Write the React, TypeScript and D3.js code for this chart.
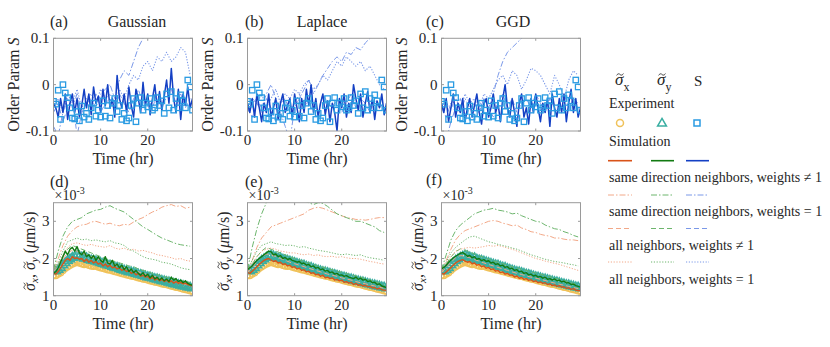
import * as d3 from "d3";
import { useEffect, useRef } from "react";

const W = 830;
const H = 347;
const FONT = "Liberation Serif, Times New Roman, DejaVu Serif, serif";

// time grids (hr)
const tFine = d3.range(0, 30, 0.5);
const tCoarse = d3.range(0, 30, 1);

const xTicks = [0, 10, 20];
const sTicks = [-0.1, 0, 0.1];
const sTickLabels = ["-0.1", "0", "0.1"];
const sigTicks = [1, 2, 3];
const sigTickLabels = ["1", "2", "3"];

const panelTags = ["(a)", "(b)", "(c)", "(d)", "(e)", "(f)"];
const panelTitles = ["Gaussian", "Laplace", "GGD"];

// ---------- experiment ----------
const expS = [
  -0.036, -0.042, -0.012, -0.075, 0.0, -0.018, -0.028, -0.05, -0.072, -0.074,
  -0.058, -0.078, -0.046, -0.07, -0.062, -0.075, -0.05, -0.04, -0.068, -0.055,
  -0.07, -0.035, -0.068, -0.045, -0.072, -0.04, -0.03, -0.058, -0.045, -0.075,
  -0.062, -0.078, -0.072, -0.045, -0.03, -0.08, -0.04, -0.028, -0.055, -0.04,
  -0.048, -0.03, -0.055, -0.05, -0.028, -0.045, -0.035, -0.062, -0.02, -0.05,
  -0.015, -0.055, -0.03, -0.05, -0.022, -0.035, -0.05, 0.01, -0.005, -0.055,
];
const expSigX = [
  1.55, 1.54, 1.58, 1.62, 1.68, 1.74, 1.78, 1.82, 1.85, 1.88,
  1.9, 1.88, 1.86, 1.84, 1.85, 1.82, 1.8, 1.79, 1.8, 1.77,
  1.75, 1.74, 1.72, 1.7, 1.69, 1.67, 1.65, 1.64, 1.62, 1.6,
  1.58, 1.56, 1.55, 1.53, 1.52, 1.5, 1.48, 1.47, 1.45, 1.44,
  1.42, 1.4, 1.39, 1.37, 1.36, 1.34, 1.32, 1.31, 1.3, 1.28,
  1.26, 1.25, 1.23, 1.22, 1.2, 1.18, 1.17, 1.15, 1.13, 1.12,
];
const expSigY = [
  1.68, 1.66, 1.7, 1.75, 1.82, 1.88, 1.94, 1.98, 2.02, 2.05,
  2.08, 2.06, 2.03, 2.0, 2.01, 1.97, 1.95, 1.94, 1.92, 1.9,
  1.88, 1.86, 1.84, 1.82, 1.81, 1.78, 1.76, 1.75, 1.72, 1.7,
  1.68, 1.66, 1.64, 1.63, 1.61, 1.59, 1.57, 1.56, 1.54, 1.52,
  1.5, 1.49, 1.47, 1.45, 1.44, 1.42, 1.4, 1.39, 1.37, 1.36,
  1.34, 1.32, 1.31, 1.29, 1.28, 1.26, 1.25, 1.23, 1.22, 1.2,
];

// ---------- order parameter S, simulations ----------
const sSolidA = [
  -0.04, -0.05, -0.07, -0.03, -0.06, -0.02, -0.075, -0.04, -0.02, -0.06,
  -0.03, -0.07, -0.045, -0.01, -0.05, -0.02, -0.065, -0.005, -0.04, -0.025,
  -0.06, -0.01, -0.045, 0.0, -0.05, -0.03, -0.07, 0.02, -0.03, -0.05,
  -0.02, -0.06, -0.005, -0.045, -0.07, -0.01, -0.03, -0.06, 0.005, -0.045,
  -0.02, -0.065, -0.03, 0.0, -0.05, -0.015, -0.055, -0.025, 0.01, -0.04,
  0.035, -0.03, -0.06, -0.01, -0.075, -0.02, -0.045, -0.005, -0.05, -0.03,
];
const sDashDotA = [
  -0.09, -0.11, -0.06, -0.03, -0.05, -0.02, -0.06, -0.04, -0.03, -0.05,
  -0.02, -0.01, 0.0, -0.03, 0.01, 0.03, 0.02, 0.05, 0.08, 0.1,
  0.12, 0.13, 0.14, 0.16, 0.15, 0.17, 0.18, 0.2, 0.19, 0.21,
];
const sDashedA = [
  -0.06, -0.04, -0.08, -0.05, -0.03, -0.11, -0.06, -0.04, -0.05, -0.02,
  -0.06, -0.04, -0.03, -0.05, -0.02, -0.04, -0.06, -0.03, -0.01, -0.04,
  -0.03, -0.05, -0.02, -0.04, -0.03, -0.01, -0.04, -0.02, -0.05, -0.03,
];
const sDottedA = [
  -0.05, -0.03, -0.06, -0.02, -0.04, -0.01, -0.05, -0.03, -0.02, -0.04,
  -0.01, -0.03, -0.02, -0.04, -0.01, -0.03, 0.0, 0.02, 0.01, 0.04,
  0.05, 0.03, 0.06, 0.05, 0.07, 0.05, 0.06, 0.08, 0.07, 0.02,
];
const sSolidB = [
  -0.04, -0.06, -0.03, -0.07, -0.02, -0.05, -0.08, -0.04, -0.06, -0.02,
  -0.07, -0.05, -0.03, -0.075, -0.04, -0.02, -0.06, -0.045, -0.03, -0.07,
  -0.02, -0.05, -0.08, -0.03, -0.06, -0.01, -0.045, 0.0, -0.06, -0.03,
  -0.07, -0.04, -0.02, -0.065, -0.035, -0.08, -0.04, -0.06, -0.1, -0.03,
  -0.05, -0.02, -0.07, -0.04, -0.06, 0.0, -0.03, -0.055, -0.02, -0.07,
  -0.04, -0.015, -0.06, -0.03, -0.075, -0.035, -0.05, -0.02, -0.065, -0.04,
];
const sDashDotB = [
  -0.06, -0.04, -0.03, -0.05, -0.02, 0.0, -0.03, -0.06, -0.09, -0.12,
  -0.05, -0.03, -0.01, 0.01, -0.02, 0.0, 0.02, 0.035, 0.05, 0.06,
  0.05, 0.07, 0.065, 0.08, 0.075, 0.09, 0.1, 0.12, 0.14, 0.15,
];
const sDashedB = [
  -0.05, -0.07, -0.04, -0.06, -0.03, -0.05, -0.08, -0.04, -0.03, -0.06,
  -0.04, -0.02, -0.05, -0.03, -0.04, -0.06, -0.02, -0.04, -0.05, -0.03,
  -0.06, -0.04, -0.02, -0.05, -0.03, -0.04, -0.06, -0.03, -0.05, -0.04,
];
const sDottedB = [
  -0.05, -0.03, -0.04, -0.02, -0.05, -0.03, -0.01, -0.04, -0.02, -0.03,
  -0.01, -0.02, 0.0, 0.01, -0.01, 0.0, 0.02, 0.01, 0.03, 0.05,
  0.04, 0.06, 0.05, 0.04, 0.05, 0.03, 0.04, 0.02, 0.0, -0.01,
];
const sSolidC = [
  -0.04, -0.06, -0.03, -0.08, -0.05, -0.02, -0.07, -0.04, -0.06, -0.03,
  -0.08, -0.05, -0.03, -0.07, -0.045, -0.02, -0.06, -0.085, -0.04, -0.03,
  -0.07, -0.05, -0.02, -0.06, -0.04, -0.08, -0.03, 0.0, -0.05, -0.07,
  -0.03, -0.06, -0.09, -0.04, -0.02, -0.07, -0.05, -0.085, -0.03, -0.06,
  -0.02, -0.05, -0.08, -0.04, -0.06, -0.03, -0.09, -0.02, -0.05, -0.07,
  -0.03, -0.06, -0.02, -0.08, -0.04, -0.01, -0.06, -0.03, -0.07, -0.05,
];
const sDashDotC = [
  -0.1, -0.12, -0.08, -0.05, -0.06, -0.03, -0.05, -0.04, -0.06, -0.03,
  -0.05, -0.02, 0.02, 0.05, 0.07, 0.08, 0.09, 0.1, 0.11, 0.12,
  0.13, 0.14, 0.15, 0.16, 0.17, 0.18, 0.19, 0.2, 0.21, 0.22,
];
const sDashedC = [
  -0.05, -0.07, -0.04, -0.06, -0.03, -0.07, -0.05, -0.04, -0.06, -0.03,
  -0.05, -0.07, -0.04, -0.02, -0.05, -0.03, -0.06, -0.04, -0.03, -0.05,
  -0.02, -0.04, -0.06, -0.03, -0.05, -0.04, -0.02, -0.05, -0.03, -0.04,
];
const sDottedC = [
  -0.06, -0.04, -0.05, -0.03, -0.05, -0.02, -0.04, -0.03, -0.05, -0.02,
  -0.03, -0.01, 0.01, 0.02, 0.0, 0.03, 0.02, -0.01, 0.01, 0.035,
  0.03, 0.02, 0.0, -0.02, 0.02, 0.0, -0.03, 0.01, 0.03, 0.02,
];

// ---------- sigma, simulations (x1e-3 um/s) ----------
const gSolidD = [
  1.6, 1.65, 1.75, 1.9, 2.05, 2.2, 2.1, 2.25, 2.3, 2.2,
  2.32, 2.15, 2.1, 2.2, 2.05, 2.1, 2.0, 2.08, 1.95, 2.05,
  1.95, 1.9, 2.05, 1.88, 1.85, 1.95, 1.8, 1.85, 1.75, 1.82,
  1.7, 1.78, 1.65, 1.72, 1.62, 1.68, 1.6, 1.55, 1.62, 1.52,
  1.58, 1.48, 1.55, 1.45, 1.5, 1.42, 1.48, 1.4, 1.45, 1.38,
  1.5, 1.42, 1.46, 1.38, 1.42, 1.35, 1.4, 1.33, 1.3, 1.28,
];
const oSolidD = [
  1.6, 1.58, 1.65, 1.75, 1.85, 1.95, 2.0, 1.95, 2.05, 2.0,
  2.02, 1.98, 2.0, 1.92, 1.98, 1.9, 1.95, 1.88, 1.92, 1.85,
  1.88, 1.8, 1.85, 1.78, 1.82, 1.75, 1.78, 1.72, 1.75, 1.68,
  1.72, 1.65, 1.68, 1.6, 1.64, 1.56, 1.6, 1.52, 1.55, 1.5,
  1.52, 1.45, 1.5, 1.42, 1.46, 1.4, 1.44, 1.38, 1.42, 1.36,
  1.4, 1.34, 1.38, 1.33, 1.36, 1.32, 1.34, 1.3, 1.28, 1.26,
];
const gDashDotD = [
  1.7, 2.2, 2.6, 2.85, 3.0, 3.05, 3.1, 3.2, 3.25, 3.3,
  3.32, 3.38, 3.42, 3.35, 3.3, 3.25, 3.15, 3.05, 2.95, 2.85,
  2.78, 2.7, 2.62, 2.55, 2.5, 2.45, 2.4, 2.37, 2.35, 2.33,
];
const oDashDotD = [
  1.7, 2.0, 2.35, 2.6, 2.75, 2.85, 2.9, 2.92, 2.98, 3.0,
  2.96, 2.92, 2.95, 2.9, 2.88, 2.92, 2.9, 2.98, 3.05, 3.1,
  3.18, 3.25, 3.3, 3.38, 3.42, 3.45, 3.4, 3.42, 3.35, 3.38,
];
const gDottedD = [
  1.7, 1.9, 2.2, 2.45, 2.5, 2.55, 2.5, 2.52, 2.48, 2.5,
  2.47, 2.45, 2.48, 2.42, 2.4, 2.35, 2.25, 2.2, 2.12, 2.05,
  2.0, 1.98, 1.95, 1.9, 1.88, 1.85, 1.8, 1.75, 1.72, 1.7,
];
const oDottedD = [
  1.7, 1.85, 2.1, 2.3, 2.4, 2.42, 2.38, 2.35, 2.38, 2.34,
  2.32, 2.3, 2.35, 2.28, 2.25, 2.28, 2.22, 2.25, 2.2, 2.22,
  2.18, 2.15, 2.1, 2.08, 2.05, 2.02, 1.98, 2.0, 1.95, 1.93,
];
const gDashedD = [
  1.7, 1.85, 2.05, 2.25, 2.35, 2.3, 2.25, 2.2, 2.15, 2.1,
  2.05, 2.0, 1.95, 1.92, 1.88, 1.85, 1.8, 1.78, 1.72, 1.68,
  1.65, 1.6, 1.57, 1.53, 1.5, 1.47, 1.44, 1.4, 1.38, 1.35,
];
const oDashedD = [
  1.65, 1.8, 1.98, 2.15, 2.22, 2.2, 2.15, 2.1, 2.05, 2.0,
  1.96, 1.92, 1.88, 1.84, 1.8, 1.76, 1.72, 1.68, 1.64, 1.6,
  1.56, 1.53, 1.5, 1.46, 1.43, 1.4, 1.37, 1.34, 1.31, 1.28,
];

const gSolidE = [
  1.7, 1.75, 1.8, 1.88, 1.95, 2.0, 2.05, 2.1, 2.15, 2.2,
  2.18, 2.1, 2.12, 2.05, 2.08, 2.0, 2.03, 1.97, 2.0, 1.95,
  1.93, 1.9, 1.92, 1.86, 1.88, 1.82, 1.84, 1.78, 1.8, 1.74,
  1.76, 1.7, 1.72, 1.66, 1.68, 1.62, 1.64, 1.58, 1.6, 1.55,
  1.56, 1.52, 1.54, 1.5, 1.48, 1.46, 1.5, 1.44, 1.47, 1.42,
  1.44, 1.38, 1.4, 1.35, 1.36, 1.3, 1.32, 1.26, 1.24, 1.22,
];
const oSolidE = [
  1.62, 1.6, 1.66, 1.72, 1.78, 1.85, 1.9, 1.95, 1.98, 2.0,
  1.96, 1.92, 1.94, 1.88, 1.9, 1.84, 1.86, 1.8, 1.82, 1.76,
  1.78, 1.72, 1.74, 1.68, 1.7, 1.64, 1.66, 1.6, 1.62, 1.56,
  1.58, 1.52, 1.55, 1.48, 1.5, 1.46, 1.48, 1.42, 1.44, 1.4,
  1.42, 1.36, 1.38, 1.34, 1.36, 1.3, 1.33, 1.28, 1.3, 1.26,
  1.28, 1.24, 1.25, 1.21, 1.22, 1.18, 1.2, 1.16, 1.15, 1.14,
];
const gDashDotE = [
  1.7, 2.3, 2.8, 3.2, 3.5, 3.7, 3.8, 3.85, 3.8, 3.75,
  3.7, 3.6, 3.55, 3.5, 3.45, 3.5, 3.48, 3.4, 3.3, 3.2,
  3.15, 3.1, 3.05, 3.0, 3.0, 2.95, 2.9, 2.85, 2.75, 2.7,
];
const oDashDotE = [
  1.65, 1.95, 2.3, 2.55, 2.7, 2.85, 2.9, 2.95, 3.0, 3.05,
  3.1, 3.15, 3.2, 3.3, 3.35, 3.38, 3.35, 3.3, 3.25, 3.2,
  3.15, 3.1, 3.08, 3.05, 3.05, 3.03, 3.05, 3.08, 3.1, 3.1,
];
const gDottedE = [
  1.7, 1.95, 2.2, 2.35, 2.4, 2.45, 2.4, 2.38, 2.35, 2.36,
  2.34, 2.3, 2.32, 2.28, 2.25, 2.22, 2.2, 2.18, 2.15, 2.12,
  2.1, 2.12, 2.1, 2.08, 2.1, 2.05, 2.02, 2.0, 1.98, 1.95,
];
const oDottedE = [
  1.65, 1.85, 2.05, 2.2, 2.25, 2.28, 2.25, 2.2, 2.18, 2.15,
  2.15, 2.12, 2.1, 2.12, 2.08, 2.1, 2.06, 2.05, 2.06, 2.03,
  2.05, 2.02, 2.0, 2.0, 1.98, 1.95, 1.92, 1.9, 1.87, 1.85,
];
const gDashedE = [
  1.7, 1.85, 2.05, 2.2, 2.3, 2.25, 2.2, 2.15, 2.1, 2.05,
  2.0, 1.96, 1.92, 1.88, 1.85, 1.8, 1.77, 1.73, 1.7, 1.66,
  1.63, 1.6, 1.56, 1.53, 1.5, 1.46, 1.42, 1.38, 1.34, 1.3,
];
const oDashedE = [
  1.62, 1.75, 1.92, 2.05, 2.12, 2.1, 2.05, 2.0, 1.95, 1.9,
  1.86, 1.82, 1.78, 1.74, 1.7, 1.66, 1.62, 1.58, 1.55, 1.52,
  1.48, 1.45, 1.42, 1.38, 1.35, 1.32, 1.29, 1.26, 1.23, 1.2,
];

const gSolidF = [
  1.72, 1.76, 1.82, 1.9, 1.96, 2.02, 2.06, 2.1, 2.14, 2.16,
  2.12, 2.06, 2.08, 2.02, 2.05, 1.98, 2.0, 1.94, 1.97, 1.92,
  1.94, 1.88, 1.9, 1.84, 1.86, 1.8, 1.82, 1.76, 1.78, 1.72,
  1.74, 1.68, 1.7, 1.64, 1.66, 1.6, 1.62, 1.56, 1.58, 1.53,
  1.55, 1.5, 1.52, 1.47, 1.5, 1.44, 1.46, 1.42, 1.45, 1.4,
  1.42, 1.37, 1.39, 1.34, 1.35, 1.3, 1.31, 1.27, 1.25, 1.23,
];
const oSolidF = [
  1.6, 1.58, 1.64, 1.7, 1.76, 1.82, 1.88, 1.92, 1.95, 1.97,
  1.93, 1.9, 1.92, 1.86, 1.88, 1.82, 1.84, 1.78, 1.8, 1.74,
  1.76, 1.7, 1.72, 1.66, 1.68, 1.62, 1.64, 1.58, 1.6, 1.55,
  1.56, 1.5, 1.53, 1.47, 1.49, 1.44, 1.46, 1.41, 1.43, 1.38,
  1.4, 1.35, 1.37, 1.33, 1.35, 1.3, 1.32, 1.27, 1.29, 1.25,
  1.27, 1.23, 1.24, 1.2, 1.21, 1.17, 1.19, 1.15, 1.14, 1.13,
];
const gDashDotF = [
  1.7, 2.1, 2.5, 2.75, 2.9, 3.0, 3.1, 3.2, 3.25, 3.3,
  3.32, 3.35, 3.3, 3.28, 3.25, 3.2, 3.22, 3.15, 3.1, 3.05,
  3.0, 2.98, 2.9, 2.85, 2.8, 2.78, 2.72, 2.68, 2.62, 2.58,
];
const oDashDotF = [
  1.65, 1.95, 2.25, 2.5, 2.65, 2.75, 2.8, 2.85, 2.9, 2.95,
  3.0, 3.02, 3.0, 2.95, 2.92, 2.88, 2.9, 2.82, 2.78, 2.72,
  2.7, 2.65, 2.62, 2.6, 2.55, 2.55, 2.52, 2.5, 2.5, 2.48,
];
const gDottedF = [
  1.7, 1.9, 2.15, 2.3, 2.4, 2.5, 2.58, 2.6, 2.55, 2.5,
  2.45, 2.42, 2.38, 2.35, 2.32, 2.28, 2.25, 2.2, 2.15, 2.1,
  2.06, 2.02, 1.98, 1.95, 1.92, 1.9, 1.88, 1.85, 1.83, 1.8,
];
const oDottedF = [
  1.65, 1.85, 2.05, 2.2, 2.25, 2.28, 2.3, 2.28, 2.3, 2.32,
  2.35, 2.33, 2.35, 2.32, 2.28, 2.25, 2.2, 2.15, 2.1, 2.05,
  2.0, 1.97, 1.93, 1.9, 1.87, 1.84, 1.8, 1.76, 1.72, 1.68,
];
const gDashedF = [
  1.7, 1.86, 2.04, 2.18, 2.26, 2.22, 2.18, 2.12, 2.08, 2.03,
  1.98, 1.94, 1.9, 1.86, 1.82, 1.78, 1.75, 1.71, 1.68, 1.64,
  1.61, 1.58, 1.54, 1.51, 1.48, 1.44, 1.41, 1.37, 1.33, 1.29,
];
const oDashedF = [
  1.62, 1.76, 1.9, 2.02, 2.08, 2.06, 2.02, 1.97, 1.93, 1.88,
  1.84, 1.8, 1.76, 1.72, 1.68, 1.64, 1.6, 1.57, 1.53, 1.5,
  1.47, 1.44, 1.41, 1.37, 1.34, 1.31, 1.28, 1.25, 1.22, 1.19,
];

// colours
const C = {
  orange: "#d95319",
  green: "#127a12",
  blue: "#1440c4",
  orangeL: "#f2a888",
  greenL: "#6db56d",
  blueL: "#7a98e8",
  expX: "#f0c25a",
  expY: "#3aaea2",
  expS: "#2a9be2",
  box: "#9a9a9a",
  text: "#262626",
};

const dashes: Record<string, string | null> = {
  solid: null,
  dashdot: "6,2,1.5,2",
  dashed: "5,3",
  dotted: "1.2,1.6",
};

const lefts = [53.5, 247.5, 441.5];
const plotW = 139;
const topRow = { y0: 38.3, y1: 131 };
const botRow = { y0: 202.7, y1: 295.7 };
const xMax = 29.5;

export default function App() {
  const svgRef = useRef<SVGSVGElement>(null);

  useEffect(() => {
    const svg = d3.select(svgRef.current);
    svg.selectAll("*").remove();

    const topData = [
      { solid: sSolidA, dashdot: sDashDotA, dashed: sDashedA, dotted: sDottedA },
      { solid: sSolidB, dashdot: sDashDotB, dashed: sDashedB, dotted: sDottedB },
      { solid: sSolidC, dashdot: sDashDotC, dashed: sDashedC, dotted: sDottedC },
    ];
    const botData = [
      { g: [gSolidD, gDashDotD, gDashedD, gDottedD], o: [oSolidD, oDashDotD, oDashedD, oDottedD] },
      { g: [gSolidE, gDashDotE, gDashedE, gDottedE], o: [oSolidE, oDashDotE, oDashedE, oDottedE] },
      { g: [gSolidF, gDashDotF, gDashedF, gDottedF], o: [oSolidF, oDashDotF, oDashedF, oDottedF] },
    ];
    const styleKeys = ["solid", "dashdot", "dashed", "dotted"];

    const titleX = [137, 322, 513];
    const tagX = [50, 245, 426];

    // text helper, always serif
    const txt = (parent: any, x: number, y: number, size: number) =>
      parent.append("text").attr("x", x).attr("y", y)
        .attr("font-family", FONT).attr("font-size", size).attr("fill", C.text);

    // small tilde drawn as a path above the given characters of a text element
    function addTildes(parent: any, textSel: any, idx: number[], size: number, shift: number) {
      const node = textSel.node() as SVGTextElement;
      idx.forEach((k) => {
        const st = node.getStartPositionOfChar(k);
        const ex = node.getExtentOfChar(k);
        const cx = ex.x + ex.width / 2 + shift;
        const ty = st.y - size * 0.62;
        const hw = size * 0.2;
        parent.append("path")
          .attr("d", `M${cx - hw},${ty + 0.9} C${cx - hw * 0.5},${ty - 1.6} ${cx - hw * 0.1},${ty - 0.4} ${cx},${ty} S${cx + hw * 0.6},${ty + 1.6} ${cx + hw},${ty - 0.9}`)
          .attr("fill", "none").attr("stroke", C.text).attr("stroke-width", 0.9);
      });
    }

    function frame(i: number, y0: number, y1: number, yDomain: number[], yT: number[], yTL: string[], id: string) {
      const left = lefts[i];
      const x = d3.scaleLinear().domain([0, xMax]).range([left, left + plotW]);
      const y = d3.scaleLinear().domain(yDomain).range([y1, y0]);

      svg.append("clipPath").attr("id", id)
        .append("rect").attr("x", left).attr("y", y0).attr("width", plotW).attr("height", y1 - y0);

      const g = svg.append("g");
      xTicks.forEach((t) => {
        g.append("line").attr("x1", x(t)).attr("x2", x(t)).attr("y1", y1).attr("y2", y1 - 2.5).attr("stroke", C.box);
        g.append("line").attr("x1", x(t)).attr("x2", x(t)).attr("y1", y0).attr("y2", y0 + 2.5).attr("stroke", C.box);
        txt(g, x(t), y1 + 14, 15).attr("text-anchor", "middle").text(String(t));
      });
      yT.forEach((t, k) => {
        g.append("line").attr("x1", left).attr("x2", left + 2.5).attr("y1", y(t)).attr("y2", y(t)).attr("stroke", C.box);
        g.append("line").attr("x1", left + plotW).attr("x2", left + plotW - 2.5).attr("y1", y(t)).attr("y2", y(t)).attr("stroke", C.box);
        txt(g, left - 4, y(t) + 5, 15).attr("text-anchor", "end").text(yTL[k]);
      });
      txt(g, left + plotW / 2, y1 + 33, 16).attr("text-anchor", "middle").text("Time (hr)");
      return { x, y, left };
    }

    function drawBox(left: number, y0: number, y1: number) {
      svg.append("rect").attr("x", left).attr("y", y0).attr("width", plotW).attr("height", y1 - y0)
        .attr("fill", "none").attr("stroke", C.box).attr("stroke-width", 1);
    }

    function addLine(vals: number[], ts: number[], x: any, y: any, clip: string, color: string, style: string, width: number) {
      const line = d3.line<number>().x((_, i) => x(ts[i])).y((v) => y(v));
      const p = svg.append("path").attr("d", line(vals)).attr("fill", "none")
        .attr("stroke", color).attr("stroke-width", width).attr("clip-path", `url(#${clip})`)
        .attr("stroke-linejoin", "round");
      if (dashes[style]) p.attr("stroke-dasharray", dashes[style] as string);
    }

    // ---- top row
    topData.forEach((d, i) => {
      const id = `clipTop${i}`;
      const { x, y, left } = frame(i, topRow.y0, topRow.y1, [-0.1, 0.1], sTicks, sTickLabels, id);
      addLine(d.dashdot, tCoarse, x, y, id, C.blueL, "dashdot", 1);
      addLine(d.dashed, tCoarse, x, y, id, C.blueL, "dashed", 1);
      addLine(d.dotted, tCoarse, x, y, id, C.blueL, "dotted", 1.1);
      addLine(d.solid, tFine, x, y, id, C.blue, "solid", 1.5);
      svg.append("g").attr("clip-path", `url(#${id})`)
        .selectAll("rect").data(expS).enter().append("rect")
        .attr("x", (_, k) => x(tFine[k]) - 2.7).attr("y", (v) => y(v) - 2.7)
        .attr("width", 5.4).attr("height", 5.4)
        .attr("fill", "none").attr("stroke", C.expS).attr("stroke-width", 1.3);
      drawBox(left, topRow.y0, topRow.y1);

      txt(svg, tagX[i], 27, 16).text(panelTags[i]);
      txt(svg, titleX[i], 27, 16).attr("text-anchor", "middle").text(panelTitles[i]);
      const yl = txt(svg, 0, 0, 16)
        .attr("transform", `translate(${left - 34.5},${(topRow.y0 + topRow.y1) / 2}) rotate(-90)`)
        .attr("text-anchor", "middle");
      yl.append("tspan").text("Order Param ");
      yl.append("tspan").attr("font-style", "italic").text("S");
    });

    // ---- bottom row
    const tri = d3.symbol().type(d3.symbolTriangle).size(34);
    const botTagX = [50, 245, 426];
    const botTagY = [187, 187, 185];
    botData.forEach((d, i) => {
      const id = `clipBot${i}`;
      const { x, y, left } = frame(i, botRow.y0, botRow.y1, [1, 3.5], sigTicks, sigTickLabels, id);
      const mg = svg.append("g").attr("clip-path", `url(#${id})`);
      mg.selectAll("circle").data(expSigX).enter().append("circle")
        .attr("cx", (_, k) => x(tFine[k])).attr("cy", (v) => y(v)).attr("r", 3.1)
        .attr("fill", "none").attr("stroke", C.expX).attr("stroke-width", 1.3);
      mg.selectAll("path").data(expSigY).enter().append("path")
        .attr("d", tri as any)
        .attr("transform", (v, k) => `translate(${x(tFine[k])},${y(v)})`)
        .attr("fill", "none").attr("stroke", C.expY).attr("stroke-width", 1.6);

      [1, 2, 3].forEach((s) => {
        addLine(d.o[s], tCoarse, x, y, id, C.orangeL, styleKeys[s], 1);
        addLine(d.g[s], tCoarse, x, y, id, C.greenL, styleKeys[s], 1);
      });
      addLine(d.o[0], tFine, x, y, id, C.orange, "solid", 1.4);
      addLine(d.g[0], tFine, x, y, id, C.green, "solid", 1.4);
      drawBox(left, botRow.y0, botRow.y1);

      txt(svg, botTagX[i], botTagY[i], 16).text(panelTags[i + 3]);
      const ex = txt(svg, left + 1, 200, 14);
      ex.append("tspan").text("×10");
      ex.append("tspan").attr("dy", -6).attr("font-size", 10).text("-3");

      // rotated y label: sigma~_x, sigma~_y (mu m/s)
      const lgp = svg.append("g")
        .attr("transform", `translate(${left - 19},${(botRow.y0 + botRow.y1) / 2 + 2}) rotate(-90)`);
      const yl = txt(lgp, 0, 0, 16).attr("text-anchor", "middle");
      yl.append("tspan").attr("font-style", "italic").text("σ");
      yl.append("tspan").attr("dy", 3).attr("font-style", "italic").attr("font-size", 11).text("x");
      yl.append("tspan").attr("dy", -3).text(", ");
      yl.append("tspan").attr("font-style", "italic").text("σ");
      yl.append("tspan").attr("dy", 3).attr("font-style", "italic").attr("font-size", 11).text("y");
      yl.append("tspan").attr("dy", -3).text(" (");
      yl.append("tspan").attr("font-style", "italic").text("μ");
      yl.append("tspan").text("m/s)");
      addTildes(lgp, yl, [0, 4], 16, 0.8);
    });

    // ---- legend
    const lg = svg.append("g");
    [{ x: 615, sub: "x" }, { x: 657, sub: "y" }].forEach((h) => {
      const tx = txt(lg, h.x, 85, 17);
      tx.append("tspan").attr("font-style", "italic").text("σ");
      tx.append("tspan").attr("dy", 6).attr("font-size", 12).text(h.sub);
      addTildes(lg, tx, [0], 17, 0.8);
    });
    txt(lg, 694, 86, 15).text("S");
    txt(lg, 609, 108, 14).text("Experiment");
    lg.append("circle").attr("cx", 620).attr("cy", 123).attr("r", 3.5).attr("fill", "none")
      .attr("stroke", C.expX).attr("stroke-width", 1.5);
    lg.append("path").attr("d", d3.symbol().type(d3.symbolTriangle).size(34)() as string)
      .attr("transform", "translate(662,123.5)").attr("fill", "none").attr("stroke", C.expY).attr("stroke-width", 1.5);
    lg.append("rect").attr("x", 694).attr("y", 120).attr("width", 6).attr("height", 6).attr("fill", "none")
      .attr("stroke", C.expS).attr("stroke-width", 1.5);
    txt(lg, 609, 146, 14).text("Simulation");

    const legendRows = [
      { y: 160.7, style: "solid", w: 1.6, cols: [C.orange, C.green, C.blue], label: "same direction neighbors, weights \u2260 1", ly: 182 },
      { y: 195, style: "dashdot", w: 1, cols: [C.orangeL, C.greenL, C.blueL], label: "same direction neighbors, weights = 1", ly: 216 },
      { y: 228.5, style: "dashed", w: 1, cols: [C.orangeL, C.greenL, C.blueL], label: "all neighbors, weights \u2260 1", ly: 249.5 },
      { y: 262, style: "dotted", w: 1, cols: [C.orangeL, C.greenL, C.blueL], label: "all neighbors, weights = 1", ly: 283.5 },
    ];
    const segX = [[608, 632], [651, 674], [686, 709]];
    legendRows.forEach((r) => {
      r.cols.forEach((c, k) => {
        const ln = lg.append("line").attr("x1", segX[k][0]).attr("x2", segX[k][1]).attr("y1", r.y).attr("y2", r.y)
          .attr("stroke", c).attr("stroke-width", r.w);
        if (dashes[r.style]) ln.attr("stroke-dasharray", dashes[r.style] as string);
      });
      txt(lg, 609, r.ly, 14).text(r.label);
    });
  }, []);

  return (
    <svg
      ref={svgRef}
      width={W}
      height={H}
      fontFamily={FONT}
      style={{ position: "absolute", left: 0, top: 0, background: "#fff" }}
    />
  );
}
